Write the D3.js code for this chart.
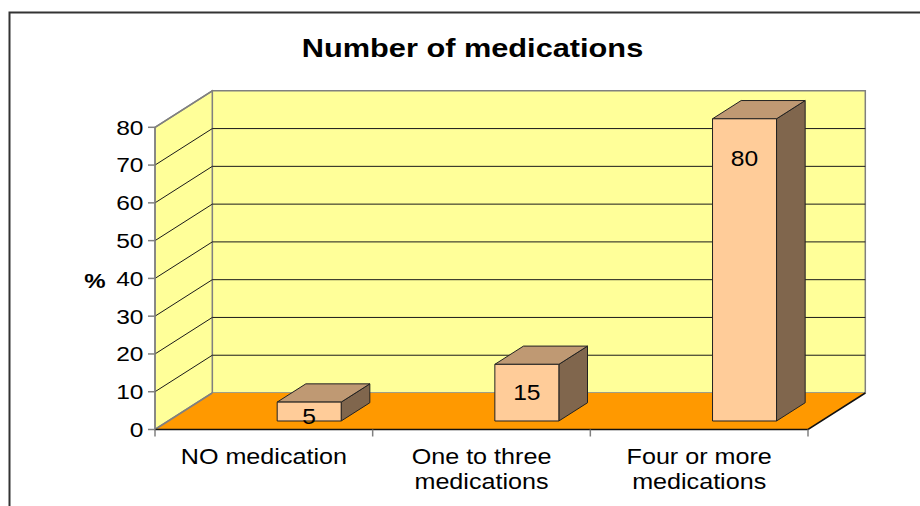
<!DOCTYPE html>
<html>
<head>
<meta charset="utf-8">
<script src="https://cdn.jsdelivr.net/npm/d3@7"></script>
<style>
  html, body { margin: 0; padding: 0; background: #fff; }
  svg { display: block; font-family: "Liberation Sans", Arial, sans-serif; }
</style>
</head>
<body>
<svg id="chart" width="920" height="506"></svg>
<script>
// ---- data ----
const title = "Number of medications";
const categories = ["NO medication", "One to three medications", "Four or more medications"];
const categoryLines = [["NO medication"], ["One to three", "medications"], ["Four or more", "medications"]];
const values = [5, 15, 80];
const yTicks = [0, 10, 20, 30, 40, 50, 60, 70, 80];
const yLabel = "%";

// ---- layout ----
const W = 920, H = 506;
const svg = d3.select("#chart");
const front = { left: 155, right: 808, bottom: 429.5, top: 127.3 };
const depth = { dx: 57.3, dy: -36.5 };
const barOffset = 0.233;   // fraction of depth where bar front sits
const barDepth = 0.5;      // fraction of depth taken by bar
const barWidth = 64;
const sx = 1.17;           // horizontal stretch of text

const x = d3.scaleBand().domain(categories).range([front.left, front.right]).padding(0);
const y = d3.scaleLinear().domain([0, 80]).range([front.bottom, front.top]);
const yMax = d3.max(yTicks);

const pt = (px, py, f) => [px + depth.dx * f, py + depth.dy * f];
const line = d3.line();

// outer border
svg.append("rect").attr("x", 9.5).attr("y", 12.5).attr("width", W).attr("height", H)
  .attr("fill", "none").attr("stroke", "#333").attr("stroke-width", 2);

// title
svg.append("text")
  .attr("transform", `translate(472.5,56.5) scale(1.16,1)`)
  .attr("text-anchor", "middle").attr("font-size", 26.5).attr("font-weight", "bold")
  .attr("fill", "#000").text(title);

// back wall
const y0 = y(0), yT = y(yMax);
svg.append("path")
  .attr("d", line([pt(front.left, y0, 1), pt(front.right, y0, 1), pt(front.right, yT, 1), pt(front.left, yT, 1)]) + "Z")
  .attr("fill", "#FFFF99").attr("stroke", "#808080").attr("stroke-width", 1.5);
// left wall
svg.append("path")
  .attr("d", line([[front.left, y0], pt(front.left, y0, 1), pt(front.left, yT, 1), [front.left, yT]]) + "Z")
  .attr("fill", "#FFFF99").attr("stroke", "#808080").attr("stroke-width", 1.5);

// gridlines
const inner = yTicks.filter(t => t > 0 && t < yMax);
inner.forEach(t => {
  const yy = y(t);
  svg.append("path").attr("d", line([[front.left, yy], pt(front.left, yy, 1), pt(front.right, yy, 1)]))
    .attr("fill", "none").attr("stroke", "#1a1a1a").attr("stroke-width", 1);
});
// top diagonal of left wall
svg.append("path").attr("d", line([[front.left, yT], pt(front.left, yT, 1)]))
  .attr("fill", "none").attr("stroke", "#808080").attr("stroke-width", 1.5);

// floor
svg.append("path")
  .attr("d", line([[front.left, y0], [front.right, y0], pt(front.right, y0, 1), pt(front.left, y0, 1)]) + "Z")
  .attr("fill", "#FF9900").attr("stroke", "none");
svg.append("path").attr("d", line([pt(front.left, y0, 1), [front.left, y0]]))
  .attr("fill", "none").attr("stroke", "#808080").attr("stroke-width", 1.5);
svg.append("path").attr("d", line([[front.left, y0], [front.right, y0], pt(front.right, y0, 1)]))
  .attr("fill", "none").attr("stroke", "#111").attr("stroke-width", 1.5);

// y axis line & ticks
svg.append("line").attr("x1", front.left).attr("x2", front.left).attr("y1", yT).attr("y2", y0)
  .attr("stroke", "#808080").attr("stroke-width", 1.5);
yTicks.forEach(t => {
  svg.append("line").attr("x1", front.left - 7).attr("x2", front.left).attr("y1", y(t)).attr("y2", y(t))
    .attr("stroke", "#808080").attr("stroke-width", 1.5);
  svg.append("text")
    .attr("transform", `translate(${front.left - 11.5},${y(t)}) scale(${sx},1)`)
    .attr("text-anchor", "end").attr("dominant-baseline", "central")
    .attr("font-size", 21).attr("fill", "#000").text(t);
});
// y label
svg.append("text")
  .attr("transform", `translate(95,281) scale(${sx},1)`)
  .attr("text-anchor", "middle").attr("dominant-baseline", "central")
  .attr("font-size", 20.5).attr("font-weight", "bold").attr("fill", "#000").text(yLabel);

// x ticks
const bounds = categories.map(c => x(c)).concat([front.right]);
bounds.forEach(b => {
  svg.append("line").attr("x1", b).attr("x2", b).attr("y1", y0).attr("y2", y0 + 7)
    .attr("stroke", "#808080").attr("stroke-width", 1.5);
});

// x labels
categories.forEach((c, i) => {
  const cx = x(c) + x.bandwidth() / 2;
  categoryLines[i].forEach((ln, j) => {
    svg.append("text")
      .attr("transform", `translate(${cx},${463.5 + j * 25.5}) scale(${sx},1)`)
      .attr("text-anchor", "middle").attr("font-size", 21.5).attr("fill", "#000").text(ln);
  });
});

// bars
const bars = svg.append("g");
categories.forEach((c, i) => {
  const v = values[i];
  const cx = x(c) + x.bandwidth() / 2;
  const [fx, fy0] = pt(cx, y(0), barOffset);
  const [, fyT] = pt(cx, y(v), barOffset);
  const x1 = fx, x2 = fx + barWidth;
  const g = bars.append("g").attr("stroke", "#222").attr("stroke-width", 1).attr("stroke-linejoin", "round");
  // side face
  g.append("path").attr("d", line([[x2, fy0], pt(x2, fy0, barDepth), pt(x2, fyT, barDepth), [x2, fyT]]) + "Z")
    .attr("fill", "#80664D");
  // top face
  g.append("path").attr("d", line([[x1, fyT], [x2, fyT], pt(x2, fyT, barDepth), pt(x1, fyT, barDepth)]) + "Z")
    .attr("fill", "#BF9973");
  // front face
  g.append("rect").attr("x", x1).attr("y", fyT).attr("width", barWidth).attr("height", fy0 - fyT)
    .attr("fill", "#FFCC99");
  // value label
  const ly = Math.max(Math.min((fyT + fy0) / 2, fyT + 40), fyT + 14);
  svg.append("text")
    .attr("transform", `translate(${(x1 + x2) / 2},${ly}) scale(1.12,1)`)
    .attr("text-anchor", "middle").attr("dominant-baseline", "central")
    .attr("font-size", 22).attr("fill", "#000").text(v);
});
</script>
</body>
</html>
